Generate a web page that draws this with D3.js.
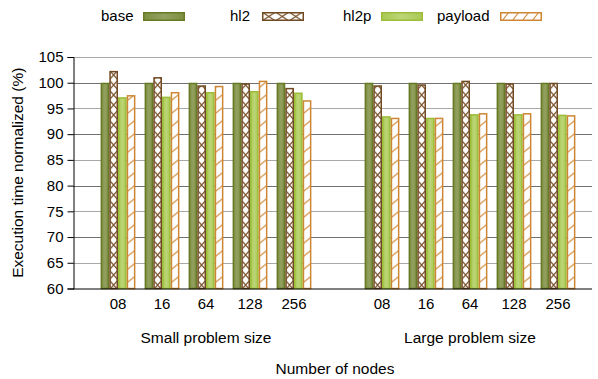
<!DOCTYPE html>
<html><head><meta charset="utf-8">
<script src="https://cdn.jsdelivr.net/npm/d3@7"></script>
<style>body{margin:0;background:#fff}svg{display:block;font-family:"Liberation Sans",Arial,sans-serif}</style>
</head><body><svg id="c" width="598" height="379"></svg>
<script>
const groups = ["Small problem size", "Large problem size"];
const nodes = ["08", "16", "64", "128", "256"];
const series = ["base", "hl2", "hl2p", "payload"];
const smallBase    = [100, 100, 100, 100, 100];
const smallHl2     = [102.3, 101.1, 99.5, 99.9, 99.0];
const smallHl2p    = [97.2, 97.3, 98.2, 98.4, 98.1];
const smallPayload = [97.6, 98.2, 99.4, 100.4, 96.6];
const largeBase    = [100, 100, 100, 100, 100];
const largeHl2     = [99.5, 99.7, 100.4, 99.9, 100.0];
const largeHl2p    = [93.5, 93.2, 93.9, 93.9, 93.8];
const largePayload = [93.2, 93.2, 94.1, 94.1, 93.7];
const yTicks = [60, 65, 70, 75, 80, 85, 90, 95, 100, 105];

const FS = 15, FT = 15.5;
const svg = d3.select("#c");
const M = {left: 73, right: 592, top: 57, bottom: 288.5};

const slots = [];
nodes.forEach(n => slots.push("S" + n));
slots.push("gap");
nodes.forEach(n => slots.push("L" + n));

const x = d3.scaleBand().domain(slots).range([96, 96 + 44 * slots.length]).padding(0);
const y = d3.scaleLinear().domain([60, 105]).range([M.bottom, M.top]);
const barW = 8.7;
const xs = d3.scaleBand().domain(series).range([0, barW * 4]).padding(0);

const data = [];
const bySeries = {
  S: [smallBase, smallHl2, smallHl2p, smallPayload],
  L: [largeBase, largeHl2, largeHl2p, largePayload]
};
["S", "L"].forEach(g => nodes.forEach((n, i) => series.forEach((s, k) => {
  data.push({slot: g + n, s, v: bySeries[g][k][i]});
})));

const defs = svg.append("defs");
const pX = defs.append("pattern").attr("id", "pX").attr("patternUnits", "userSpaceOnUse")
  .attr("width", barW).attr("height", 10);
pX.append("rect").attr("width", barW).attr("height", 10).attr("fill", "#fff");
pX.append("path").attr("d", `M0,0L${barW},10M${barW},0L0,10`).attr("stroke", "#7a5129").attr("stroke-width", 1.2).attr("fill", "none");
const pXL = defs.append("pattern").attr("id", "pXL").attr("patternUnits", "userSpaceOnUse")
  .attr("width", 13.5).attr("height", 9);
pXL.append("rect").attr("width", 13.5).attr("height", 9).attr("fill", "#fff");
pXL.append("path").attr("d", `M0,0L13.5,9M13.5,0L0,9`).attr("stroke", "#7a5129").attr("stroke-width", 1.2).attr("fill", "none");
const pD = defs.append("pattern").attr("id", "pD").attr("patternUnits", "userSpaceOnUse")
  .attr("width", barW).attr("height", 13);
pD.append("rect").attr("width", barW).attr("height", 13).attr("fill", "#fff");
pD.append("path").attr("d", `M0,10L${barW},3`).attr("stroke", "#d39046").attr("stroke-width", 1.2).attr("fill", "none");
const pDL = defs.append("pattern").attr("id", "pDL").attr("patternUnits", "userSpaceOnUse")
  .attr("width", 10).attr("height", 9);
pDL.append("rect").attr("width", 10).attr("height", 9).attr("fill", "#fff");
pDL.append("path").attr("d", `M2,9L9,0`).attr("stroke", "#d39046").attr("stroke-width", 1.2).attr("fill", "none");
const lgB = defs.append("linearGradient").attr("id", "gB");
lgB.append("stop").attr("offset", "0%").attr("stop-color", "#7d8f42");
lgB.append("stop").attr("offset", "50%").attr("stop-color", "#93a15f");
lgB.append("stop").attr("offset", "100%").attr("stop-color", "#7d8f42");
const lgG = defs.append("linearGradient").attr("id", "gG");
lgG.append("stop").attr("offset", "0%").attr("stop-color", "#a9c854");
lgG.append("stop").attr("offset", "50%").attr("stop-color", "#bcd677");
lgG.append("stop").attr("offset", "100%").attr("stop-color", "#a9c854");

const style = {
  base: {fill: "url(#gB)", legFill: "url(#gB)", stroke: "#667a24"},
  hl2: {fill: "url(#pX)", legFill: "url(#pXL)", stroke: "#704a22"},
  hl2p: {fill: "url(#gG)", legFill: "url(#gG)", stroke: "#9dbd3a"},
  payload: {fill: "url(#pD)", legFill: "url(#pDL)", stroke: "#cc8634"}
};

// gridlines
svg.append("g").selectAll("line").data(yTicks.filter(t => t > 60)).join("line")
  .attr("x1", M.left).attr("x2", M.right)
  .attr("y1", d => Math.round(y(d)) + 0.5).attr("y2", d => Math.round(y(d)) + 0.5)
  .attr("stroke", d => d % 10 === 0 ? "#707070" : "#a8a8a8").attr("stroke-width", 1);

// y axis
const yAxis = d3.axisLeft(y).tickValues(yTicks).tickSize(6).tickPadding(4);
const ya = svg.append("g").attr("transform", `translate(${M.left + 0.5},0)`).call(yAxis);
ya.select(".domain").attr("stroke", "#000");
ya.selectAll(".tick line").attr("stroke", "#000");
ya.selectAll(".tick text").attr("font-size", FS).attr("fill", "#000").attr("font-family", "Liberation Sans, Arial, sans-serif");

// bars
const bars = svg.append("g").selectAll("g").data(data).join("g")
  .attr("transform", d => `translate(${x(d.slot) + (x.bandwidth() - barW * 4) / 2 + xs(d.s)},0)`);
bars.append("rect")
  .attr("x", 0.75).attr("width", barW - 1.5)
  .attr("y", d => y(d.v) + 0.75).attr("height", d => y(60) - y(d.v) - 0.75)
  .attr("fill", d => style[d.s].fill).attr("stroke", d => style[d.s].stroke).attr("stroke-width", 1.5);

// x axis line
svg.append("line").attr("x1", M.left).attr("x2", M.right).attr("y1", M.bottom + 0.5).attr("y2", M.bottom + 0.5)
  .attr("stroke", "#000").attr("stroke-width", 1);

// x tick labels
const xAxis = d3.axisBottom(x).tickSize(0).tickPadding(10).tickFormat(d => d === "gap" ? "" : d.slice(1));
const xa = svg.append("g").attr("transform", `translate(0,${M.bottom})`).call(xAxis);
xa.select(".domain").remove();
xa.selectAll(".tick text").attr("font-size", FS).attr("fill", "#000").attr("font-family", "Liberation Sans, Arial, sans-serif");

// group labels
groups.forEach((g, gi) => {
  const pre = gi === 0 ? "S" : "L";
  const cx = x(pre + "64") + x.bandwidth() / 2;
  svg.append("text").attr("x", cx).attr("y", 343).attr("text-anchor", "middle")
    .attr("font-size", FT).text(g);
});
svg.append("text").attr("x", 335).attr("y", 374).attr("text-anchor", "middle").attr("font-size", FT).text("Number of nodes");
svg.append("text").attr("transform", `translate(23,${(M.top + M.bottom) / 2}) rotate(-90)`)
  .attr("text-anchor", "middle").attr("font-size", FT).text("Execution time normalized (%)");

// legend
const legX = [{t: 101, s: 143}, {t: 230, s: 262}, {t: 343, s: 381}, {t: 437, s: 500}];
const lg = svg.append("g");
series.forEach((s, i) => {
  lg.append("text").attr("x", legX[i].t).attr("y", 21).attr("font-size", FS).text(s);
  const g = lg.append("g").attr("transform", `translate(${legX[i].s},12)`);
  g.append("rect").attr("x", 0.75).attr("y", 0.75).attr("width", 40.5).attr("height", 7.5)
    .attr("fill", style[s].legFill).attr("stroke", style[s].stroke).attr("stroke-width", 1.5);
});
</script></body></html>
